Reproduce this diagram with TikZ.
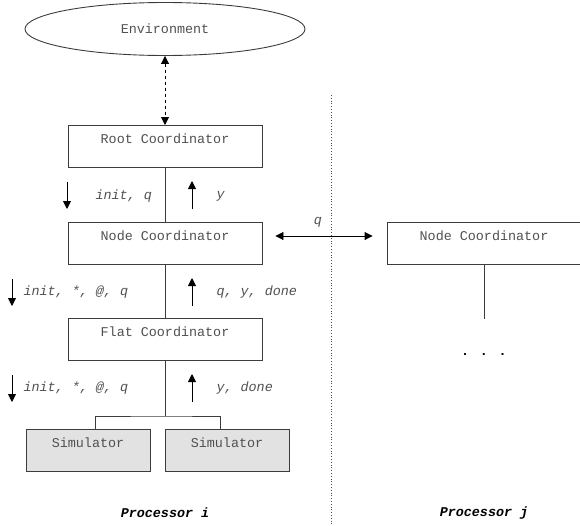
\documentclass[tikz,border=0pt]{standalone}
\usepackage{fontspec}
\setmainfont{Liberation Mono}
\usetikzlibrary{shapes.geometric,arrows.meta,calc}
\definecolor{inkgray}{HTML}{3C3C3C}
\definecolor{textgray}{HTML}{505050}
\definecolor{simfill}{HTML}{E2E2E2}
\begin{document}
\begin{tikzpicture}[x=1pt,y=-1pt,
  font=\fontsize{13.4}{16}\selectfont,
  box/.style={draw=inkgray,line width=0.9pt,rectangle,inner sep=0pt,
    text height=18.5pt,text depth=23.5pt,minimum width=194pt,anchor=north,text=textgray},
  simbox/.style={box,fill=simfill,minimum width=124pt},
  lbl/.style={text=textgray,font=\fontsize{13.4}{16}\selectfont\itshape},
  tip/.style={-{Triangle[length=8pt,width=8pt]},line width=0.9pt},
  bitip/.style={{Triangle[length=8pt,width=8pt]}-{Triangle[length=8pt,width=8pt]},line width=0.9pt},
  link/.style={draw=inkgray,line width=0.9pt}]
\useasboundingbox (0,0) rectangle (580,525);

% environment and processor i hierarchy
\node[ellipse,draw=inkgray,line width=0.9pt,minimum width=280pt,minimum height=53pt,
  inner sep=0pt,text=textgray] (env) at (165,29) {Environment};
\node[box] (root) at (165,125) {Root Coordinator};
\node[box] (nodei) at (165,222) {Node Coordinator};
\node[box] (flat) at (165,318) {Flat Coordinator};
\node[simbox] (sim1) at (88,429) {Simulator};
\node[simbox] (sim2) at (227,429) {Simulator};

% processor j
\node[box] (nodej) at (484,222) {Node Coordinator};
\coordinate (jend) at (484,319);
\node[text=black,font=\fontsize{13.4}{16}\selectfont\bfseries] (dots) at (484,354) {. . .};

% processor separator
\coordinate (sepTop) at (331,95);
\coordinate (sepBot) at (331,525);
\draw[black!70,dotted,line width=0.8pt] (sepTop) -- (sepBot);

% environment link
\draw[bitip,dashed] (env.south) -- (root.north);

% tree links
\draw[link] (root.south) -- (nodei.north);
\draw[link] (nodei.south) -- (flat.north);
\coordinate (fork) at (165,416);
\draw[link] (flat.south) -- (fork);
\draw[link] ($(sim1.north)+(7,0)$) |- (fork) -| ($(sim2.north)+(-7,0)$);
\draw[link] (nodej.south) -- (jend);

% message exchange between node coordinators
\draw[bitip,shorten <=13pt,shorten >=14pt]
  (nodei.east |- 0,236) -- (nodej.west |- 0,236);
\node[lbl] (qlbl) at (318,222) {q};

% message arrows along the hierarchy
\coordinate (d1a) at (67,182); \coordinate (d1b) at (67,209);
\coordinate (u1a) at (192,209); \coordinate (u1b) at (192,181);
\draw[tip] (d1a) -- (d1b);
\draw[tip] (u1a) -- (u1b);
\node[lbl,anchor=west] (l1) at (92,196) {init, q};
\node[lbl,anchor=west] (l2) at (213,196) {y};

\coordinate (d2a) at (12,279); \coordinate (d2b) at (12,306);
\coordinate (u2a) at (192,306); \coordinate (u2b) at (192,278);
\draw[tip] (d2a) -- (d2b);
\draw[tip] (u2a) -- (u2b);
\node[lbl,anchor=west] (l3) at (20,292) {init, *, @, q};
\node[lbl,anchor=west] (l4) at (213,292) {q, y, done};

\coordinate (d3a) at (12,375); \coordinate (d3b) at (12,402);
\coordinate (u3a) at (192,402); \coordinate (u3b) at (192,374);
\draw[tip] (d3a) -- (d3b);
\draw[tip] (u3a) -- (u3b);
\node[lbl,anchor=west] (l5) at (20,388) {init, *, @, q};
\node[lbl,anchor=west] (l6) at (213,388) {y, done};

% processor captions
\node[font=\fontsize{13.4}{16}\selectfont\bfseries\itshape] (proci) at (165,513) {Processor i};
\node[font=\fontsize{13.4}{16}\selectfont\bfseries\itshape] (procj) at (484,513) {Processor j};
\end{tikzpicture}
\end{document}
